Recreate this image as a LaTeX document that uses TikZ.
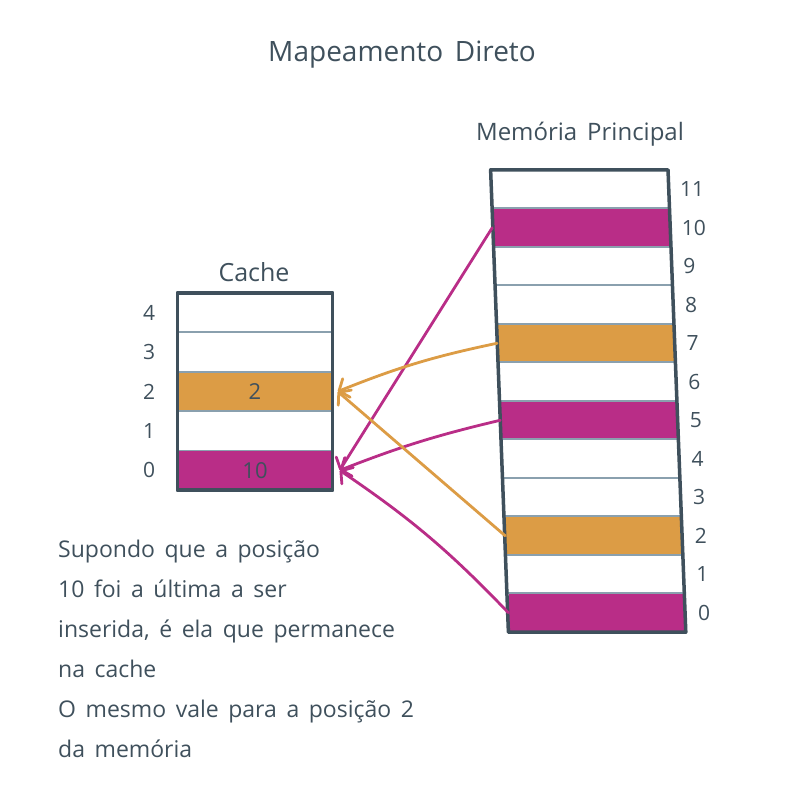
\documentclass[tikz,border=0pt]{standalone}
\usepackage{fontspec}
\setmainfont{Open Sans}[WordSpace=1.6]
\usetikzlibrary{arrows.meta,positioning}
\definecolor{ink}{HTML}{3F505C}
\definecolor{rulec}{HTML}{8AA0AE}
\definecolor{mag}{HTML}{B92D87}
\definecolor{ora}{HTML}{DC9C45}

\begin{document}
\begin{tikzpicture}[x=1pt, y=-1pt,
    cell/.style={rectangle, inner sep=0pt, minimum width=155pt,
      minimum height=39.4pt, font=\fontsize{22}{26}\selectfont, text=ink},
    mcell/.style={rectangle, inner sep=0pt, minimum width=177pt,
      minimum height=38.5pt},
    idx/.style={inner sep=0pt, font=\fontsize{21}{24}\selectfont, text=ink},
    sep/.style={rulec, line width=1.8pt},
    frame/.style={ink, line width=3.5pt, line join=round},
    link/.style={line width=2.8pt, line cap=round,
      -{Straight Barb[length=8pt,width=20pt,round]}},
    ttl/.style={text=ink, inner sep=0pt}]
  \useasboundingbox (0,0) rectangle (800,800);
  % --- Titles ---
  \node[ttl, font=\fontsize{28}{32}\selectfont] (title) at (402,55)
    {Mapeamento Direto};
  \node[ttl, font=\fontsize{24}{28}\selectfont] (memtitle) at (580,134)
    {Memória Principal};
  \node[ttl, font=\fontsize{25}{28}\selectfont] (cachetitle) at (254,272)
    {Cache};
  % --- Cache ---
  \foreach \i/\c/\t in {0/mag/10, 1/white/{}, 2/ora/2, 3/white/{}, 4/white/{}} {
    \node[cell, fill=\c] (c\i) at (255, {293+39.4*(4.5-\i)}) {\t};
    \node[idx, left=22pt of c\i] (cl\i) {\i};
  }
  \foreach \i in {0,...,3}
    \draw[sep] (c\i.north west) -- (c\i.north east);
  \draw[frame] (c4.north west) rectangle (c0.south east);
  % --- Main memory (slightly slanted) ---
  \foreach \i/\c in {0/mag, 1/white, 2/ora, 3/white, 4/white, 5/mag,
                     6/white, 7/ora, 8/white, 9/white, 10/mag, 11/white} {
    \node[mcell, fill=\c] (m\i) at ({578.5+0.042*38.5*(11.5-\i)}, {170+38.5*(11.5-\i)}) {};
    \node[idx, right=12pt of m\i] (ml\i) {\i};
  }
  \foreach \i in {0,...,10}
    \draw[sep] (m\i.north west) -- (m\i.north east);
  \draw[frame] (m11.north west) -- (m11.north east) -- (m0.south east)
    -- (m0.south west) -- cycle;
  % --- Mappings ---
  \coordinate (in0) at ([xshift=7pt]c0.east);
  \coordinate (in2) at ([xshift=5pt]c2.east);
  \draw[link, mag] (m10.west) -- (in0);
  \draw[link, mag] (m5.west)  to[bend right=4] (in0);
  \draw[link, mag] (m0.west)  to[bend right=6] (in0);
  \draw[link, ora] (m7.west)  to[bend right=5] (in2);
  \draw[link, ora] (m2.west)  -- (in2);
  % --- Note ---
  \node[ttl, anchor=north west, align=left,
        font=\fontsize{23}{40}\selectfont] (note) at (58,540)
    {Supondo que a posição\\
     10 foi a última a ser\\
     inserida, é ela que permanece\\
     na cache\\
     O mesmo vale para a posição 2\\
     da memória};
\end{tikzpicture}
\end{document}
